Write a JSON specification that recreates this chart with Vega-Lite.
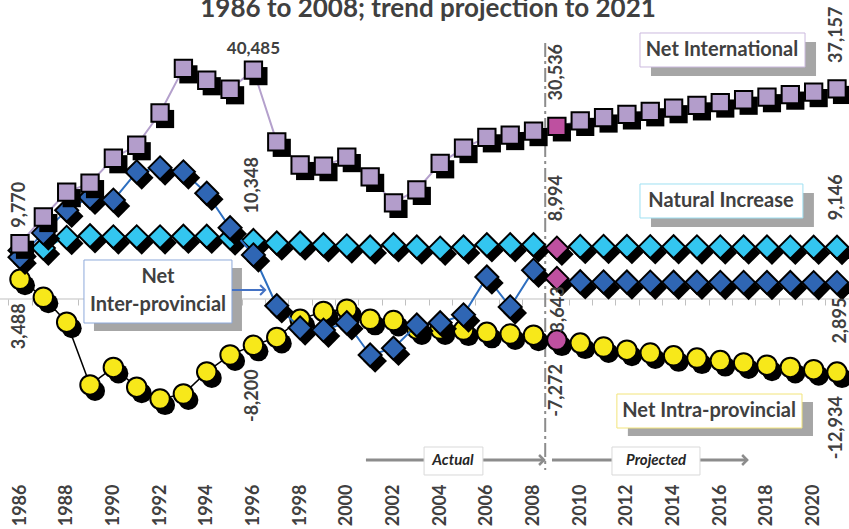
{
  "$schema": "https://vega.github.io/schema/vega-lite/v6.json",
  "width": 849,
  "height": 476,
  "autosize": {"type": "none"},
  "padding": {"left": 0, "top": 0, "right": 0, "bottom": 53},
  "background": "white",
  "config": {"view": {"stroke": null}, "font": "Lato"},
  "data": {"values": [{}]},
  "datasets": {
    "intl": [
      {"year": 1986, "value": 9770}, {"year": 1987, "value": 14500}, {"year": 1988, "value": 18900},
      {"year": 1989, "value": 20500}, {"year": 1990, "value": 24900}, {"year": 1991, "value": 27200},
      {"year": 1992, "value": 32900}, {"year": 1993, "value": 40800}, {"year": 1994, "value": 38700},
      {"year": 1995, "value": 37100}, {"year": 1996, "value": 40485}, {"year": 1997, "value": 27800},
      {"year": 1998, "value": 23700}, {"year": 1999, "value": 23500}, {"year": 2000, "value": 25100},
      {"year": 2001, "value": 21600}, {"year": 2002, "value": 17000}, {"year": 2003, "value": 19300},
      {"year": 2004, "value": 24000}, {"year": 2005, "value": 26700}, {"year": 2006, "value": 28600},
      {"year": 2007, "value": 29000}, {"year": 2008, "value": 29700}, {"year": 2009, "value": 30536},
      {"year": 2010, "value": 31500}, {"year": 2011, "value": 32100}, {"year": 2012, "value": 32650},
      {"year": 2013, "value": 33200}, {"year": 2014, "value": 33750}, {"year": 2015, "value": 34250},
      {"year": 2016, "value": 34750}, {"year": 2017, "value": 35250}, {"year": 2018, "value": 35700},
      {"year": 2019, "value": 36150}, {"year": 2020, "value": 36600}, {"year": 2021, "value": 37157}
    ],
    "natural": [
      {"year": 1986, "value": 8600}, {"year": 1987, "value": 9000}, {"year": 1988, "value": 10900},
      {"year": 1989, "value": 11200}, {"year": 1990, "value": 11000}, {"year": 1991, "value": 11000},
      {"year": 1992, "value": 11000}, {"year": 1993, "value": 11100}, {"year": 1994, "value": 11100},
      {"year": 1995, "value": 10800}, {"year": 1996, "value": 10348}, {"year": 1997, "value": 9900},
      {"year": 1998, "value": 9900}, {"year": 1999, "value": 9600}, {"year": 2000, "value": 9400},
      {"year": 2001, "value": 9200}, {"year": 2002, "value": 9600}, {"year": 2003, "value": 9200},
      {"year": 2004, "value": 9000}, {"year": 2005, "value": 9200}, {"year": 2006, "value": 9600},
      {"year": 2007, "value": 9600}, {"year": 2008, "value": 9600}, {"year": 2009, "value": 8994},
      {"year": 2010, "value": 9300}, {"year": 2011, "value": 9300}, {"year": 2012, "value": 9280},
      {"year": 2013, "value": 9260}, {"year": 2014, "value": 9250}, {"year": 2015, "value": 9230},
      {"year": 2016, "value": 9220}, {"year": 2017, "value": 9200}, {"year": 2018, "value": 9190},
      {"year": 2019, "value": 9170}, {"year": 2020, "value": 9160}, {"year": 2021, "value": 9146}
    ],
    "inter": [
      {"year": 1986, "value": 7400}, {"year": 1987, "value": 11700}, {"year": 1988, "value": 15700},
      {"year": 1989, "value": 18000}, {"year": 1990, "value": 17500}, {"year": 1991, "value": 22500},
      {"year": 1992, "value": 23200}, {"year": 1993, "value": 22500}, {"year": 1994, "value": 18700},
      {"year": 1995, "value": 12600}, {"year": 1996, "value": 7800}, {"year": 1997, "value": -1200},
      {"year": 1998, "value": -5100}, {"year": 1999, "value": -5500}, {"year": 2000, "value": -4200},
      {"year": 2001, "value": -9900}, {"year": 2002, "value": -8700}, {"year": 2003, "value": -4600},
      {"year": 2004, "value": -4200}, {"year": 2005, "value": -2800}, {"year": 2006, "value": 3900},
      {"year": 2007, "value": -1400}, {"year": 2008, "value": 5100}, {"year": 2009, "value": 3643},
      {"year": 2010, "value": 3050}, {"year": 2011, "value": 3020}, {"year": 2012, "value": 3000},
      {"year": 2013, "value": 2990}, {"year": 2014, "value": 2975}, {"year": 2015, "value": 2960},
      {"year": 2016, "value": 2950}, {"year": 2017, "value": 2940}, {"year": 2018, "value": 2930},
      {"year": 2019, "value": 2915}, {"year": 2020, "value": 2905}, {"year": 2021, "value": 2895}
    ],
    "intra": [
      {"year": 1986, "value": 3488}, {"year": 1987, "value": 300}, {"year": 1988, "value": -4100},
      {"year": 1989, "value": -15200}, {"year": 1990, "value": -12100}, {"year": 1991, "value": -15600},
      {"year": 1992, "value": -17700}, {"year": 1993, "value": -16800}, {"year": 1994, "value": -12900},
      {"year": 1995, "value": -9900}, {"year": 1996, "value": -8200}, {"year": 1997, "value": -6800},
      {"year": 1998, "value": -3600}, {"year": 1999, "value": -2200}, {"year": 2000, "value": -1800},
      {"year": 2001, "value": -3600}, {"year": 2002, "value": -3800}, {"year": 2003, "value": -5300},
      {"year": 2004, "value": -5300}, {"year": 2005, "value": -5500}, {"year": 2006, "value": -5900},
      {"year": 2007, "value": -6200}, {"year": 2008, "value": -6400}, {"year": 2009, "value": -7272},
      {"year": 2010, "value": -7800}, {"year": 2011, "value": -8500}, {"year": 2012, "value": -9050},
      {"year": 2013, "value": -9550}, {"year": 2014, "value": -10050}, {"year": 2015, "value": -10450},
      {"year": 2016, "value": -10900}, {"year": 2017, "value": -11300}, {"year": 2018, "value": -11700},
      {"year": 2019, "value": -12100}, {"year": 2020, "value": -12500}, {"year": 2021, "value": -12934}
    ]
  },
  "resolve": {"axis": {"x": "independent", "y": "independent"}},
  "layer": [
    {
      "description": "zero line with category ticks between years",
      "mark": {"type": "rule", "stroke": "#c0c0c0", "strokeWidth": 1},
      "encoding": {
        "x": {"datum": 1985.143, "type": "quantitative",
              "scale": {"domain": [1985.143, 2021.514], "nice": false, "zero": false},
              "axis": {"orient": "bottom", "offset": -177, "title": null, "labels": false, "domain": false,
                       "ticks": true, "tickSize": 6, "tickColor": "#c0c0c0", "tickWidth": 1, "grid": false,
                       "values": [1985.5, 1986.5, 1987.5, 1988.5, 1989.5, 1990.5, 1991.5, 1992.5, 1993.5, 1994.5, 1995.5, 1996.5, 1997.5, 1998.5, 1999.5, 2000.5, 2001.5, 2002.5, 2003.5, 2004.5, 2005.5, 2006.5, 2007.5, 2008.5, 2009.5, 2010.5, 2011.5, 2012.5, 2013.5, 2014.5, 2015.5, 2016.5, 2017.5, 2018.5, 2019.5, 2020.5]}},
        "x2": {"datum": 2021.514},
        "y": {"datum": 0, "type": "quantitative",
              "scale": {"domain": [-31311, 52892], "nice": false, "zero": false}, "axis": null}
      }
    },
    {
      "description": "divider between actual and projected years",
      "mark": {"type": "rule", "stroke": "#8c8c8c", "strokeWidth": 2, "strokeDash": [14, 4, 3, 4]},
      "encoding": {
        "x": {"datum": 2008.5, "type": "quantitative",
              "axis": {"orient": "bottom", "title": null, "domain": false, "ticks": false, "grid": false,
                       "labelAngle": 270, "labelPadding": 8, "labelFont": "Lato", "labelFontWeight": "bold",
                       "labelFontSize": 18, "labelColor": "#404040", "labelFlush": false, "labelOverlap": false,
                       "values": [1986, 1988, 1990, 1992, 1994, 1996, 1998, 2000, 2002, 2004, 2006, 2008, 2010, 2012, 2014, 2016, 2018, 2020],
                       "format": "d"}},
        "y": {"datum": 45270, "type": "quantitative", "axis": null},
        "y2": {"datum": -30250}
      }
    },
    {
      "data": {"name": "intra"},
      "encoding": {
        "x": {"field": "year", "type": "quantitative", "axis": null},
        "y": {"field": "value", "type": "quantitative", "axis": null}
      },
      "layer": [
        {"mark": {"type": "line", "stroke": "#000000", "strokeWidth": 1.5}},
        {"mark": {"type": "point", "shape": "circle", "filled": true, "size": 400, "color": "#000000", "opacity": 1, "xOffset": 5, "yOffset": 6}},
        {"mark": {"type": "point", "shape": "circle", "filled": true, "size": 380, "stroke": "#000000", "strokeWidth": 2, "opacity": 1},
         "encoding": {"fill": {"condition": {"test": "datum.year === 2009", "value": "#be50a0"}, "value": "#f7e81a"}}},
        {"transform": [{"filter": "indexof([1986, 1996, 2009, 2021], datum.year) >= 0"},
                       {"calculate": "replace(format(datum.value, ','), '\u2212', '-')", "as": "label"}],
         "mark": {"type": "text", "angle": 270, "align": "right", "baseline": "middle", "dx": -24, "font": "Lato", "fontWeight": "bold", "fontSize": 18, "color": "#404040"},
         "encoding": {"text": {"field": "label"}}}
      ]
    },
    {
      "data": {"name": "natural"},
      "encoding": {
        "x": {"field": "year", "type": "quantitative", "axis": null},
        "y": {"field": "value", "type": "quantitative", "axis": null}
      },
      "layer": [
        {"mark": {"type": "line", "stroke": "#33c6f0", "strokeWidth": 2}},
        {"mark": {"type": "point", "shape": "diamond", "filled": true, "size": 560, "color": "#000000", "opacity": 1, "xOffset": 5, "yOffset": 6}},
        {"mark": {"type": "point", "shape": "diamond", "filled": true, "size": 530, "stroke": "#000000", "strokeWidth": 2, "opacity": 1},
         "encoding": {"fill": {"condition": {"test": "datum.year === 2009", "value": "#be50a0"}, "value": "#33c6f0"}}},
        {"transform": [{"filter": "indexof([1996, 2009, 2021], datum.year) >= 0"},
                       {"calculate": "replace(format(datum.value, ','), '\u2212', '-')", "as": "label"}],
         "mark": {"type": "text", "angle": 270, "align": "left", "baseline": "middle", "dx": 27, "font": "Lato", "fontWeight": "bold", "fontSize": 18, "color": "#404040"},
         "encoding": {"text": {"field": "label"}}}
      ]
    },
    {
      "data": {"name": "inter"},
      "encoding": {
        "x": {"field": "year", "type": "quantitative", "axis": null},
        "y": {"field": "value", "type": "quantitative", "axis": null}
      },
      "layer": [
        {"mark": {"type": "line", "stroke": "#2e6fc0", "strokeWidth": 2}},
        {"mark": {"type": "point", "shape": "diamond", "filled": true, "size": 560, "color": "#000000", "opacity": 1, "xOffset": 5, "yOffset": 6}},
        {"mark": {"type": "point", "shape": "diamond", "filled": true, "size": 530, "stroke": "#000000", "strokeWidth": 2, "opacity": 1},
         "encoding": {"fill": {"condition": {"test": "datum.year === 2009", "value": "#be50a0"}, "value": "#2f66b4"}}},
        {"transform": [{"filter": "datum.year === 2009"},
                       {"calculate": "replace(format(datum.value, ','), '\u2212', '-')", "as": "label"}],
         "mark": {"type": "text", "angle": 270, "align": "right", "baseline": "middle", "dx": -8, "dy": 2, "font": "Lato", "fontWeight": "bold", "fontSize": 18, "color": "#404040"},
         "encoding": {"text": {"field": "label"}}},
        {"transform": [{"filter": "datum.year === 2021"},
                       {"calculate": "replace(format(datum.value, ','), '\u2212', '-')", "as": "label"}],
         "mark": {"type": "text", "angle": 270, "align": "right", "baseline": "middle", "dx": -15, "dy": 4, "font": "Lato", "fontWeight": "bold", "fontSize": 18, "color": "#404040"},
         "encoding": {"text": {"field": "label"}}}
      ]
    },
    {
      "data": {"name": "intl"},
      "encoding": {
        "x": {"field": "year", "type": "quantitative", "axis": null},
        "y": {"field": "value", "type": "quantitative", "axis": null}
      },
      "layer": [
        {"mark": {"type": "line", "stroke": "#b4a0cc", "strokeWidth": 2}},
        {"mark": {"type": "point", "shape": "square", "filled": true, "size": 330, "color": "#000000", "opacity": 1, "xOffset": 5, "yOffset": 6}},
        {"mark": {"type": "point", "shape": "square", "filled": true, "size": 300, "stroke": "#000000", "strokeWidth": 2, "opacity": 1},
         "encoding": {"fill": {"condition": {"test": "datum.year === 2009", "value": "#be50a0"}, "value": "#b39dcb"}}},
        {"transform": [{"filter": "datum.year === 1986"},
                       {"calculate": "replace(format(datum.value, ','), '\u2212', '-')", "as": "label"}],
         "mark": {"type": "text", "angle": 270, "align": "left", "baseline": "middle", "dx": 16, "font": "Lato", "fontWeight": "bold", "fontSize": 18, "color": "#404040"},
         "encoding": {"text": {"field": "label"}}},
        {"transform": [{"filter": "datum.year === 2009 || datum.year === 2021"},
                       {"calculate": "replace(format(datum.value, ','), '\u2212', '-')", "as": "label"}],
         "mark": {"type": "text", "angle": 270, "align": "left", "baseline": "middle", "dx": 26, "font": "Lato", "fontWeight": "bold", "fontSize": 18, "color": "#404040"},
         "encoding": {"text": {"field": "label"}}},
        {"transform": [{"filter": "datum.year === 1996"},
                       {"calculate": "replace(format(datum.value, ','), '\u2212', '-')", "as": "label"}],
         "mark": {"type": "text", "angle": 0, "align": "center", "baseline": "alphabetic", "dy": -16, "font": "Lato", "fontWeight": "bold", "fontSize": 17, "color": "#404040"},
         "encoding": {"text": {"field": "label"}}}
      ]
    },
    {
      "description": "callout shadows",
      "mark": {"type": "rect", "fill": "#a6a6a6", "xOffset": 11, "x2Offset": 11, "yOffset": 9, "y2Offset": 9},
      "encoding": {"x": {"datum": 2012.56, "type": "quantitative", "axis": null}, "x2": {"datum": 2019.63},
                   "y": {"datum": 47055, "type": "quantitative", "axis": null}, "y2": {"datum": 41041}}
    },
    {
      "mark": {"type": "rect", "fill": "white", "stroke": "#cbb9de", "strokeWidth": 1},
      "encoding": {"x": {"datum": 2012.56, "type": "quantitative", "axis": null}, "x2": {"datum": 2019.63},
                   "y": {"datum": 47055, "type": "quantitative", "axis": null}, "y2": {"datum": 41041}}
    },
    {
      "mark": {"type": "text", "text": "Net International", "font": "Lato", "fontWeight": "bold", "fontSize": 20, "color": "#404040", "align": "center", "baseline": "middle"},
      "encoding": {"x": {"datum": 2016.07, "type": "quantitative", "axis": null}, "y": {"datum": 44048, "type": "quantitative", "axis": null}}
    },
    {
      "mark": {"type": "rect", "fill": "#a6a6a6", "xOffset": 11, "x2Offset": 11, "yOffset": 9, "y2Offset": 9},
      "encoding": {"x": {"datum": 2012.56, "type": "quantitative", "axis": null}, "x2": {"datum": 2019.54},
                   "y": {"datum": 20344, "type": "quantitative", "axis": null}, "y2": {"datum": 14329}}
    },
    {
      "mark": {"type": "rect", "fill": "white", "stroke": "#9fe0f2", "strokeWidth": 1},
      "encoding": {"x": {"datum": 2012.56, "type": "quantitative", "axis": null}, "x2": {"datum": 2019.54},
                   "y": {"datum": 20344, "type": "quantitative", "axis": null}, "y2": {"datum": 14329}}
    },
    {
      "mark": {"type": "text", "text": "Natural Increase", "font": "Lato", "fontWeight": "bold", "fontSize": 20, "color": "#404040", "align": "center", "baseline": "middle"},
      "encoding": {"x": {"datum": 2016.03, "type": "quantitative", "axis": null}, "y": {"datum": 17336, "type": "quantitative", "axis": null}}
    },
    {
      "mark": {"type": "rect", "fill": "#a6a6a6", "xOffset": 10, "x2Offset": 10, "yOffset": 8, "y2Offset": 8},
      "encoding": {"x": {"datum": 1988.74, "type": "quantitative", "axis": null}, "x2": {"datum": 1995.08},
                   "y": {"datum": 6899, "type": "quantitative", "axis": null}, "y2": {"datum": -4246}}
    },
    {
      "mark": {"type": "rect", "fill": "white", "stroke": "#8eaadb", "strokeWidth": 1},
      "encoding": {"x": {"datum": 1988.74, "type": "quantitative", "axis": null}, "x2": {"datum": 1995.08},
                   "y": {"datum": 6899, "type": "quantitative", "axis": null}, "y2": {"datum": -4246}}
    },
    {
      "mark": {"type": "text", "text": ["Net", "Inter-provincial"], "lineHeight": 28, "font": "Lato", "fontWeight": "bold", "fontSize": 20, "color": "#404040", "align": "center", "baseline": "middle"},
      "encoding": {"x": {"datum": 1991.91, "type": "quantitative", "axis": null}, "y": {"datum": 3900, "type": "quantitative", "axis": null}}
    },
    {
      "mark": {"type": "rule", "stroke": "#4472c4", "strokeWidth": 2},
      "encoding": {"x": {"datum": 1995.08, "type": "quantitative", "axis": null}, "x2": {"datum": 1996.5},
                   "y": {"datum": 1592, "type": "quantitative", "axis": null}}
    },
    {
      "mark": {"type": "point", "shape": "M-1,-1L0,0L-1,1", "filled": false, "size": 100, "stroke": "#4472c4", "strokeWidth": 2, "opacity": 1},
      "encoding": {"x": {"datum": 1996.5, "type": "quantitative", "axis": null}, "y": {"datum": 1592, "type": "quantitative", "axis": null}}
    },
    {
      "mark": {"type": "rect", "fill": "#a6a6a6", "xOffset": 11, "x2Offset": 11, "yOffset": 8, "y2Offset": 8},
      "encoding": {"x": {"datum": 2011.57, "type": "quantitative", "axis": null}, "x2": {"datum": 2019.5},
                   "y": {"datum": -16806, "type": "quantitative", "axis": null}, "y2": {"datum": -22820}}
    },
    {
      "mark": {"type": "rect", "fill": "white", "stroke": "#f2e47a", "strokeWidth": 1},
      "encoding": {"x": {"datum": 2011.57, "type": "quantitative", "axis": null}, "x2": {"datum": 2019.5},
                   "y": {"datum": -16806, "type": "quantitative", "axis": null}, "y2": {"datum": -22820}}
    },
    {
      "mark": {"type": "text", "text": "Net Intra-provincial", "font": "Lato", "fontWeight": "bold", "fontSize": 20, "color": "#404040", "align": "center", "baseline": "middle"},
      "encoding": {"x": {"datum": 2015.52, "type": "quantitative", "axis": null}, "y": {"datum": -19813, "type": "quantitative", "axis": null}}
    },
    {
      "description": "actual and projected period arrows",
      "mark": {"type": "rule", "stroke": "#8c8c8c", "strokeWidth": 3},
      "encoding": {"x": {"datum": 2000.82, "type": "quantitative", "axis": null}, "x2": {"datum": 2008.45},
                   "y": {"datum": -28481, "type": "quantitative", "axis": null}}
    },
    {
      "mark": {"type": "rule", "stroke": "#8c8c8c", "strokeWidth": 3},
      "encoding": {"x": {"datum": 2008.79, "type": "quantitative", "axis": null}, "x2": {"datum": 2017.15},
                   "y": {"datum": -28481, "type": "quantitative", "axis": null}}
    },
    {
      "mark": {"type": "point", "shape": "M-1,-1L0,0L-1,1", "filled": false, "size": 100, "stroke": "#8c8c8c", "strokeWidth": 2.5, "opacity": 1},
      "encoding": {"x": {"datum": 2008.45, "type": "quantitative", "axis": null}, "y": {"datum": -28481, "type": "quantitative", "axis": null}}
    },
    {
      "mark": {"type": "point", "shape": "M-1,-1L0,0L-1,1", "filled": false, "size": 100, "stroke": "#8c8c8c", "strokeWidth": 2.5, "opacity": 1},
      "encoding": {"x": {"datum": 2017.15, "type": "quantitative", "axis": null}, "y": {"datum": -28481, "type": "quantitative", "axis": null}}
    },
    {
      "mark": {"type": "rect", "fill": "white", "stroke": "#d9d9d9", "strokeWidth": 1},
      "encoding": {"x": {"datum": 2003.31, "type": "quantitative", "axis": null}, "x2": {"datum": 2005.83},
                   "y": {"datum": -26181, "type": "quantitative", "axis": null}, "y2": {"datum": -31134}}
    },
    {
      "mark": {"type": "rect", "fill": "white", "stroke": "#d9d9d9", "strokeWidth": 1},
      "encoding": {"x": {"datum": 2011.36, "type": "quantitative", "axis": null}, "x2": {"datum": 2015.13},
                   "y": {"datum": -26181, "type": "quantitative", "axis": null}, "y2": {"datum": -31134}}
    },
    {
      "mark": {"type": "text", "text": "Actual", "font": "Lato", "fontWeight": "bold", "fontStyle": "italic", "fontSize": 15, "color": "#262626", "align": "center", "baseline": "middle"},
      "encoding": {"x": {"datum": 2004.55, "type": "quantitative", "axis": null}, "y": {"datum": -28481, "type": "quantitative", "axis": null}}
    },
    {
      "mark": {"type": "text", "text": "Projected", "font": "Lato", "fontWeight": "bold", "fontStyle": "italic", "fontSize": 15, "color": "#262626", "align": "center", "baseline": "middle"},
      "encoding": {"x": {"datum": 2013.25, "type": "quantitative", "axis": null}, "y": {"datum": -28481, "type": "quantitative", "axis": null}}
    },
    {
      "description": "chart title",
      "mark": {"type": "text", "text": "1986 to 2008; trend projection to 2021", "font": "Lato", "fontWeight": "bold", "fontSize": 26, "color": "#404040", "align": "center", "baseline": "alphabetic"},
      "encoding": {"x": {"datum": 2003.48, "type": "quantitative", "axis": null}, "y": {"datum": 49800, "type": "quantitative", "axis": null}}
    }
  ]
}
